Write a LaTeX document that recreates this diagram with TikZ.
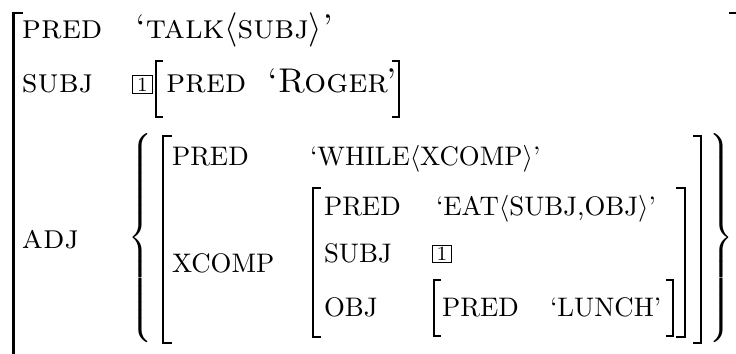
\documentclass[tikz,border=0pt]{standalone}
\usepackage{fix-cm}
\begin{document}
\begin{tikzpicture}[x=0.373pt,y=-0.373pt,
  lbl/.style={anchor=base west,inner sep=0pt,outer sep=0pt,font=\fontsize{10}{12}\selectfont},
  sclbl/.style={lbl,font=\fontsize{12.8}{15}\selectfont\scshape},
  brk/.style={line width=0.75pt},
  tagbox/.style={draw,line width=0.45pt,inner sep=0pt,minimum width=7.3pt,minimum height=6.5pt,font=\fontsize{7.5}{9}\selectfont},
  bracenode/.style={inner sep=0pt,outer sep=0pt}]
\useasboundingbox (0,0) rectangle (736,353);
\clip (0,0) rectangle (736,353);
% outer matrix
\draw[brk] (23,12.5) -- (13.5,12.5) -- (13.5,370);
\draw[brk] (729,12.5) -- (740,12.5) -- (740,370);
\node[sclbl] (p1) at (22,38) {pred};
\node[sclbl] (v1) at (135,38) {`talk$\langle$subj$\rangle$'};
\node[sclbl] (s1) at (22,92) {subj};
\node[tagbox] (t1) at (142.5,84.5) {1};
\draw[brk] (163,60.5) -- (156,60.5) -- (156,116.5) -- (163,116.5);
\node[sclbl] (p2) at (166,92) {pred};
\node[sclbl] (v2) at (267,92) {`Roger'};
\draw[brk] (392,60.5) -- (399,60.5) -- (399,116.5) -- (392,116.5);
\node[sclbl] (a1) at (22,248) {adj};
% braces
\node[bracenode,anchor=base west] (lb) at (128,244.5) {$\left\{\vrule height 44pt depth 39pt width 0pt\right.$};
\node[bracenode,anchor=base east] (rb) at (733,244.5) {$\left.\vrule height 44pt depth 39pt width 0pt\right\}$};
% adj member matrix
\draw[brk] (172,135.5) -- (163,135.5) -- (163,342.5) -- (172,342.5);
\draw[brk] (693,135.5) -- (701,135.5) -- (701,342.5) -- (693,342.5);
\node[lbl] (p3) at (172,165) {PRED};
\node[lbl] (v3) at (310,165) {`WHILE$\langle$XCOMP$\rangle$'};
\node[lbl] (x1) at (172,272) {XCOMP};
% xcomp matrix
\draw[brk] (321,187.5) -- (313,187.5) -- (313,336.5) -- (321,336.5);
\draw[brk] (676,187.5) -- (685,187.5) -- (685,336.5) -- (676,336.5);
\node[lbl] (p4) at (324,215) {PRED};
\node[lbl] (v4) at (436,215) {`EAT$\langle$SUBJ,OBJ$\rangle$'};
\node[lbl] (s2) at (324,262) {SUBJ};
\node[tagbox] (t2) at (442,254) {1};
\node[lbl] (o1) at (324,316) {OBJ};
% obj matrix
\draw[brk] (441,279.5) -- (434,279.5) -- (434,335.5) -- (441,335.5);
\node[lbl] (p5) at (442,316) {PRED};
\node[lbl] (v5) at (550,316) {`LUNCH'};
\draw[brk] (666,279.5) -- (673,279.5) -- (673,335.5) -- (666,335.5);
\end{tikzpicture}
\end{document}
